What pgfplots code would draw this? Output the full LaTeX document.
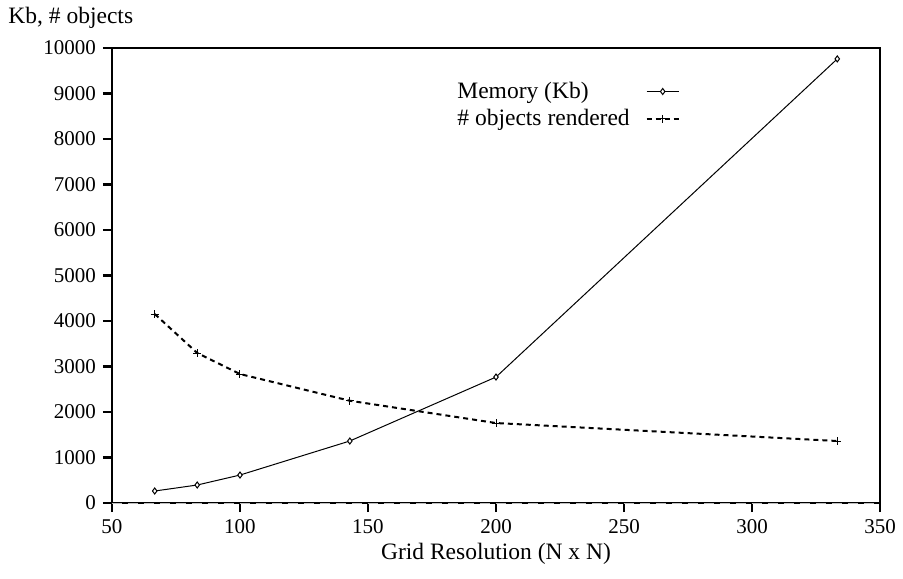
\documentclass[border=0pt]{standalone}
\usepackage{fontspec}
\setmainfont{Liberation Serif}
\usepackage{pgfplots}
\pgfplotsset{compat=1.18}

\begin{document}
\fontsize{21}{25}\selectfont
\begin{tikzpicture}
\begin{axis}[
    scale only axis,
    width=768pt, height=455pt,
    xmin=50, xmax=350,
    ymin=0, ymax=10000,
    xtick={50,100,...,350},
    ytick={0,1000,...,10000},
    axis line style={line width=2.8pt, black},
    major tick style={black, line width=2.2pt},
    tick align=outside,
    major tick length=9pt,
    xtick pos=left, ytick pos=left,
    scaled y ticks=false,
    /pgf/number format/assume math mode=true,
    /pgf/number format/1000 sep={},
    tick label style={font=\fontsize{21}{25}\selectfont},
    xlabel={Grid Resolution (N x N)},
    xlabel style={font=\fontsize{23.5}{28}\selectfont, yshift=4pt},
    legend style={draw=none, fill=none, at={(0.443,0.935)}, anchor=north west,
        font=\fontsize{23.5}{28}\selectfont, row sep=4pt,
        /tikz/every odd column/.append style={column sep=14pt}},
    legend plot pos=right,
    legend cell align={left},
    legend image code/.code={
        \draw[mark repeat=2, mark phase=2, #1]
            plot coordinates {(0pt,0pt) (16pt,0pt) (32pt,0pt)};},
    clip=false,
]
% frame and ticks drawn explicitly
\draw[line width=2.8pt, black] (rel axis cs:0,0) rectangle (rel axis cs:1,1);
\pgfplotsinvokeforeach{50,100,...,350}{
    \draw[line width=2.2pt, black] (axis cs:#1,0) -- ++(0pt,-9pt);
}
\pgfplotsinvokeforeach{0,1000,...,10000}{
    \draw[line width=2.2pt, black] (axis cs:50,#1) -- ++(-9pt,0pt);
}
\addplot[black, line width=1pt, mark=diamond*, mark size=3pt,
    mark options={fill=white, line width=1pt}] coordinates {
    (66.7,264) (83.3,396) (100,615) (142.9,1363) (200,2769) (333.3,9760)
};
\addlegendentry{Memory (Kb)}
\addplot[black, line width=2pt, dash pattern=on 5pt off 4pt, mark=+, mark size=4pt,
    mark options={solid, line width=1pt}] coordinates {
    (66.7,4154) (83.3,3297) (100,2835) (142.9,2248) (200,1758) (333.3,1363)
};
\addlegendentry{\# objects rendered}
\addplot[gray!50, line width=1pt, dash pattern=on 10pt off 6pt, forget plot] coordinates {
    (50,0) (350,0)
};
\node[anchor=west, inner sep=0pt, font=\fontsize{23.5}{28}\selectfont]
    at (rel axis cs:-0.135,1.066) {Kb, \# objects};
\path (rel axis cs:-0.1458,-0.1648) rectangle (rel axis cs:1.0299,1.1055);
\end{axis}
\end{tikzpicture}
\end{document}
